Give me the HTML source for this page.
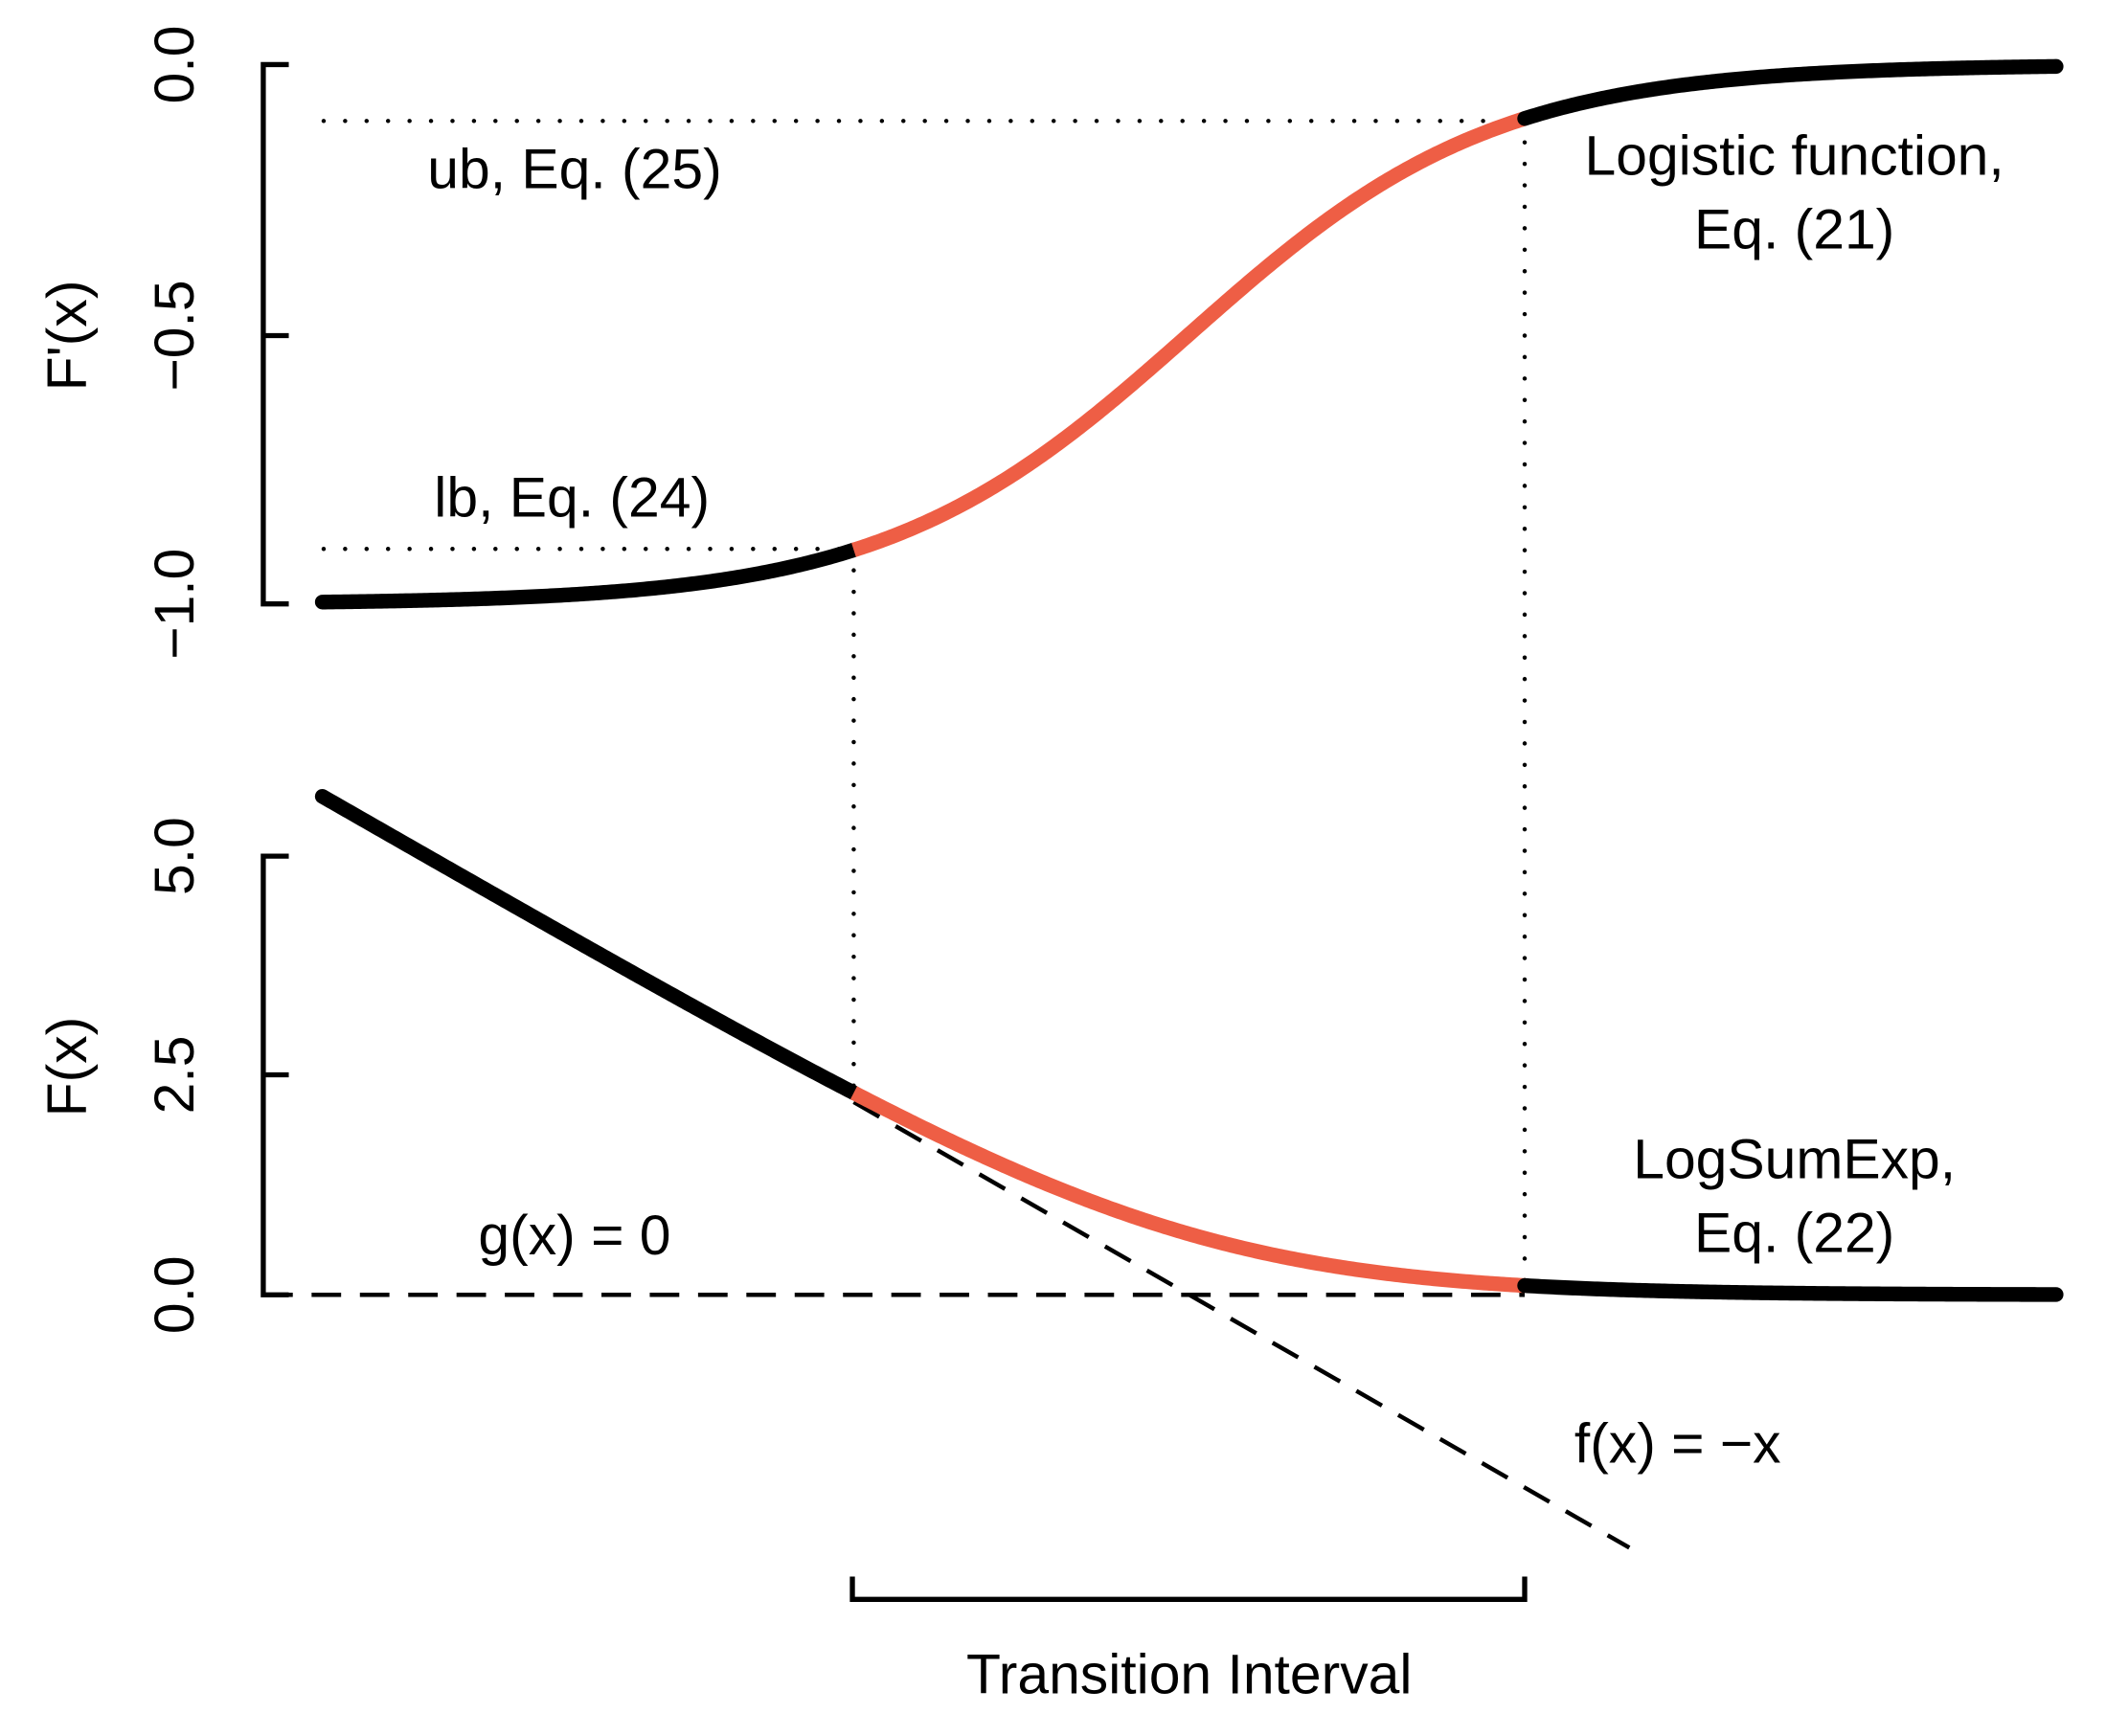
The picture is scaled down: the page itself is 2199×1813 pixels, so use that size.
<!DOCTYPE html>
<html><head><meta charset="utf-8"><style>
html,body{margin:0;padding:0;background:#fff}
svg{display:block}
text{font-family:"Liberation Sans",sans-serif;font-size:42px;fill:#000}
</style></head><body>
<svg id="s" width="2199" height="1813" viewBox="-1.2 -0.15 1569.4 1294" preserveAspectRatio="none" xmlns="http://www.w3.org/2000/svg">
<g stroke="#000" stroke-width="3.8" fill="none" stroke-linecap="butt">
<path d="M214,48 H195 V450 H214 M195,250 H214"/>
<path d="M214,638 H195 V965 H214 M195,801 H214"/>
<path d="M634,1175 V1192 H1135 V1175"/>
</g>
<g stroke="#000" stroke-width="3.2" fill="none" stroke-dasharray="0 16" stroke-linecap="round">
<path d="M240,90 H1135"/>
<path d="M240,409 H635"/>
<path d="M635,409 V815"/>
<path d="M1135,90 V965"/>
</g>
<g stroke="#000" stroke-width="3.2" fill="none" stroke-dasharray="22 14">
<path d="M195,965 H1135"/>
<path id="fx" d="M635,815 L1213,1153"/>
</g>
<g fill="none" stroke-width="11" stroke-linecap="round">
<path id="t1" stroke="#000"/><path id="t2" stroke="#ee5e45" stroke-linecap="butt"/><path id="t3" stroke="#000"/>
<path id="b1" stroke="#000"/><path id="b2" stroke="#ee5e45" stroke-linecap="butt"/><path id="b3" stroke="#000"/>
</g>
<text x="427" y="140" text-anchor="middle">ub, Eq. (25)</text>
<text x="425" y="385" text-anchor="middle">lb, Eq. (24)</text>
<text x="1336" y="130" text-anchor="middle">Logistic function,</text>
<text x="1336" y="185" text-anchor="middle">Eq. (21)</text>
<text x="1336" y="878" text-anchor="middle">LogSumExp,</text>
<text x="1336" y="933" text-anchor="middle">Eq. (22)</text>
<text x="427" y="935" text-anchor="middle">g(x) = 0</text>
<text x="1172" y="1090">f(x) = −x</text>
<text x="885" y="1262" text-anchor="middle">Transition Interval</text>
<g text-anchor="middle">
<text transform="translate(143,48) rotate(-90)">0.0</text>
<text transform="translate(143,250) rotate(-90)">−0.5</text>
<text transform="translate(143,450) rotate(-90)">−1.0</text>
<text transform="translate(143,638) rotate(-90)">5.0</text>
<text transform="translate(143,801) rotate(-90)">2.5</text>
<text transform="translate(143,965) rotate(-90)">0.0</text>
<text transform="translate(63,250) rotate(-90)">F'(x)</text>
<text transform="translate(63,795) rotate(-90)">F(x)</text>
</g>
</svg>
<script>
(function(){
var k=Math.log(9)/250,c=885;
function fTop(x){var t=k*(x-c);return 450-402/(1+Math.exp(-t));}
function fBot(x){var t=-k*(x-c);var F=t>30?t:Math.log(1+Math.exp(t));return 965-F*65.4;}
function mk(f,a,b){var s="";for(var x=a;x<=b+0.001;x+=2){s+=(s?"L":"M")+x.toFixed(1)+","+f(x).toFixed(2);}return s;}
function setD(i,d){document.getElementById(i).setAttribute("d",d);}
setD("t1",mk(fTop,239,635));setD("t2",mk(fTop,635,1135));setD("t3",mk(fTop,1135,1531));
setD("b1",mk(fBot,239,635));setD("b2",mk(fBot,635,1135));setD("b3",mk(fBot,1135,1531));
setD("fx","M635,"+(965-k*250*65.4).toFixed(1)+" L1213,"+(965+k*(1213-c)*65.4).toFixed(1));
})();
</script>
</body></html>
